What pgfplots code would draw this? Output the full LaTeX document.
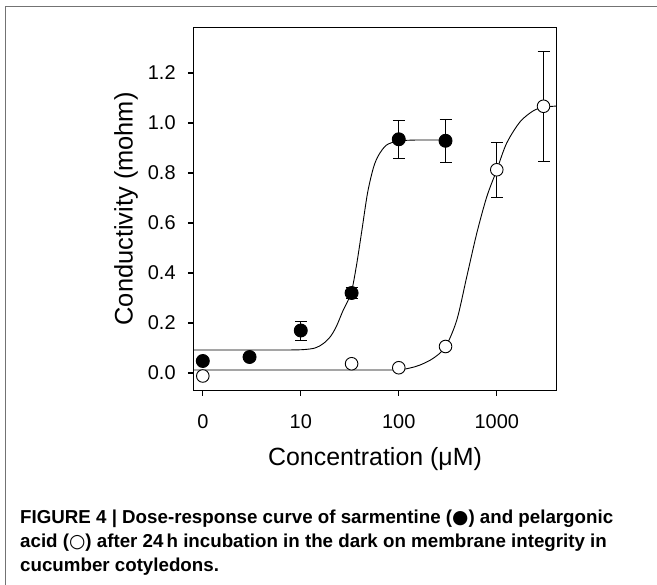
\documentclass[border=0pt]{standalone}
\usepackage{fontspec}
\setmainfont{Liberation Sans}
\newfontfamily\symfont{DejaVu Sans}
\usepackage{pgfplots}
\pgfplotsset{compat=1.18}
\usepackage{pgfplotstable}

\pgfplotstableread{
x y e
1 0.048 0
3 0.064 0
10 0.170 0.038
33 0.320 0.022
100 0.935 0.077
300 0.929 0.085
}\filled

\pgfplotstableread{
x y e
1 -0.012 0
33 0.037 0
100 0.021 0
300 0.106 0
1000 0.813 0.111
3000 1.067 0.220
}\open

\begin{document}
\begin{tikzpicture}[x=1bp,y=1bp]
\path[use as bounding box] (0,0) rectangle (657,585);
\draw[black!55, line width=1.4bp] (5.5,0) -- (5.5,578.5) -- (657,578.5);
\begin{axis}[
  at={(193.3bp,194.5bp)}, anchor=south west,
  width=363.4bp, height=363.2bp, scale only axis,
  xmode=log, xmin=0.8, xmax=4090, ymin=-0.07, ymax=1.383,
  xtick={1,10,100,1000}, xticklabels={0,10,100,1000},
  xminorticks=false,
  ytick={0,0.2,0.4,0.6,0.8,1.0,1.2},
  /pgf/number format/fixed, /pgf/number format/fixed zerofill,
  /pgf/number format/precision=1, /pgf/number format/assume math mode=true,
  xticklabel style={anchor=north, inner sep=0pt, yshift=-18.5bp, font=\fontsize{20}{20}\selectfont},
  yticklabel style={anchor=east, inner sep=0pt, xshift=-12bp, font=\fontsize{20}{20}\selectfont},
  tick align=outside, major tick length=5.5bp,
  xtick pos=bottom, ytick pos=left,
  axis line style={line width=1.1bp},
  every tick/.style={black, line width=1.1bp},
  xlabel={Concentration (μM)},
  ylabel={Conductivity (mohm)},
  every axis x label/.style={at={(axis description cs:0.5,-0.19)}, anchor=center, font=\fontsize{25}{25}\selectfont},
  every axis y label/.style={at={(axis description cs:-0.185,0.5)}, rotate=90, anchor=center, font=\fontsize{25.5}{25}\selectfont},
  clip=false,
]
\addplot[black, line width=0.9bp, smooth, tension=0.5] coordinates {
(0.8,0.092) (5,0.092) (10,0.093) (14,0.100) (17,0.118) (20,0.145) (23,0.185)
(27,0.250) (32.6,0.320) (37,0.430) (42,0.570) (48,0.720) (55,0.820) (62,0.870)
(75,0.912) (100,0.928) (150,0.932) (300,0.932)
};
\addplot[black, line width=0.9bp, smooth, tension=0.5] coordinates {
(0.8,0.012) (50,0.012) (100,0.013) (130,0.020) (165,0.032) (225,0.059) (300,0.105)
(391,0.212) (494,0.385) (625,0.559) (791,0.705) (1000,0.812) (1260,0.919)
(1730,1.005) (2365,1.049) (3000,1.063) (4090,1.068)
};
\addplot[only marks, mark=*, mark size=6.5bp, mark options={fill=black, draw=black, line width=0.9bp},
  error bars/.cd, y dir=both, y explicit,
  error bar style={line width=0.9bp, black},
  error mark options={rotate=90, mark size=6bp, line width=0.9bp, black}]
  table[x=x, y=y, y error=e] {\filled};
\addplot[only marks, mark=*, mark size=6.3bp, mark options={fill=white, draw=black, line width=0.9bp},
  error bars/.cd, y dir=both, y explicit,
  error bar style={line width=0.9bp, black},
  error mark options={rotate=90, mark size=6bp, line width=0.9bp, black}]
  table[x=x, y=y, y error=e] {\open};
\end{axis}
\begin{scope}[every node/.style={anchor=base west, inner sep=0pt, font=\fontsize{18.8}{20}\selectfont\bfseries}]
\node at (20,61.5) {FIGURE 4 | Dose-response curve of sarmentine ({\symfont ●}) and pelargonic};
\node at (20,37.5) {acid ({\symfont ○}) after 24\,h incubation in the dark on membrane integrity in};
\node at (20,13.5) {cucumber cotyledons.};
\end{scope}
\end{tikzpicture}
\end{document}
